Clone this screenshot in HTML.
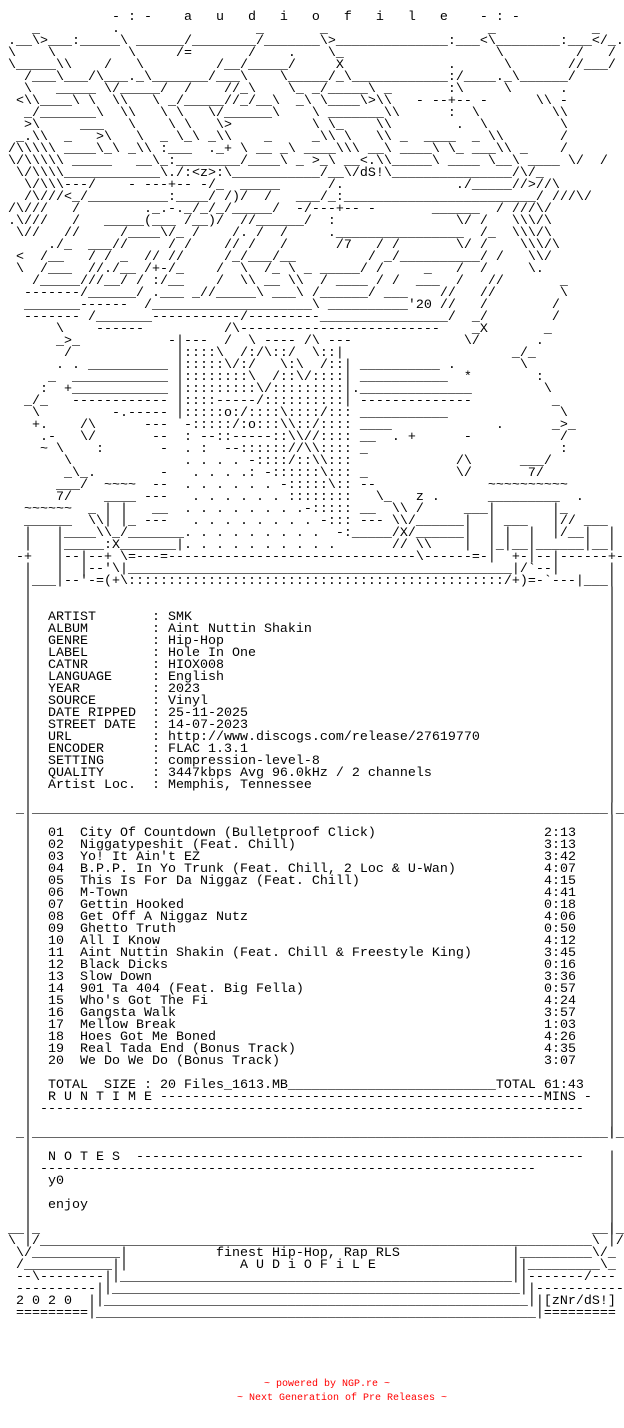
<!DOCTYPE html>
<html><head><meta charset="utf-8"><style>
html,body{margin:0;padding:0;background:#fff;}
#c{position:relative;width:624px;height:1428px;overflow:hidden;background:#fff;}
pre{position:absolute;margin:0;padding:0;font-family:"Liberation Mono",monospace;font-size:13.333px;line-height:12px;color:#000;white-space:pre;}
.f{position:absolute;font-family:"Liberation Mono",monospace;font-size:10px;line-height:14px;color:#f00;white-space:pre;}
</style></head><body><div id="c">
<pre style="left:0;top:0">

              - : -    a   u   d   i   o   f   i   l   e    - : -
    _         .                 _       _                    _            _
 .__\&gt;___:_____\ ______/________/_______\&gt;______________:___&lt;\________:___&lt;/_.
 \    \         \     /=       /    .    \_                   \         /   /
 \_____\\    /   \         /__/_____/     X             .      \       //___/
   /___\___/\___._\_______/___\    \_____/_\____________:/____._\______/
   \   _____ \/_____/  /    //_\    \_ _/_____\ _       :\     \      .
  &lt;\\____\ \  \\   \ _/_____//_/__\  _\ \____\&gt;\\   - --+-- -      \\ -
   _/_______\  \\   \ \   \/______\    \ _______\\      :  \         \\
   &gt;\     ___   \    \ \   \&gt;          \ \_    \\        .  \         \
  _.\\  _   &gt;\   \  _ \_\ _\\    _     _\\ \   \\ _  ____  _ \\       /
 /\\\\\ ____\_\ _\\ :___  ._+ \ __ _\ ____\\\ __\ ____\ \_ ___\\ _    /
 \/\\\\\ _____   __\_:________/____\ _ &gt;_\ __&lt;.\\_____\ ____ \__\ ____ \/  /
  \/\\\\____________\./:&lt;z&gt;:\___________/__\/dS!\_______________/\/_
   \/\\\---/    - ---+-- -/_  _____      /.              ./_____//&gt;//\
   /\///&lt;_/__________:____/ /)/  /   ___/_:________________________/ ///\/
 /\///   /        ._.-._/_/_/_____/  -/---+-- -       ______  / ///\/
 .\///   /   _____(___ /__)/  //______/  :               \/ /   \\\/\
  \//   //     /____\/_ /    /. /  /     .________________  /_  \\\/\
      ./_  ___//     / /    // /   /      /7   / /       \/ /    \\\/\
  &lt;  /__   / / _  // //     /_/___/__         / _/__________/ /   \\/
  \  /___  //./__ /+-/_    /  \  /_ \ _ _____/ /     _   /  /     \.
    /_____///__/ / :/__    /  \\ __ \\  / ____ / /  ___  /   //       _
   -------/______/ .___ _//_____\ ___\ /______/ ___    //   //        \
   _______------  /____________________\ __________'20 //   /        /
   ------- /_______-----------/---------________________/  _/        /
       \    ------          /\-------------------------    _X       _
       _&gt;_           -|---  /  \ ---- /\ ---              \/       .
        /             |::::\  /:/\::/  \::|                     _/_
       . . __________ |:::::\/:/   \:\  /::| __________ .        \
      _  ____________ |::::::::\  /::\/::::| ___________  *        :
     :  +____________ |:::::::::\/:::::::::|.______________         \
   _/_   ------------ |::::-----/::::::::::| --------------          _
    \         -.----- |:::::o:/::::\::::/::: ___________              \
    +.    /\      ---  -:::::/:o:::\\::/:::: ____             .      _&gt;_
     .-   \/       --  : --::-----::\\//:::: __  . +      -           /
     ~ \    :       -  . :  --:::::://\\:::: _                        :
        \              . . . . -::::/::\\:::             /\      ___/
        _\_.        -   . . . .: -::::::\::: _           \/       7/
       ___/  ~~~~  --  . . . . . . -:::::\:: --              ~~~~~~~~~~
       7/    ____ ---   . . . . . . ::::::::   \_   z .      _________  .
   ~~~~~~  _ | |   __  . . . . . . . .-::::: __  \\ /     ___|       |_
   ______  \\| |_ ---   . . . . . . . . -::: --- \\/______|  | ___   |// ___
   |   |____\\_/_______. . . . . . . . .  -:_____/X/______|  | |  |  |/__|  |
   |   |_____:X_______|. . . . . . . . . .       // \\    |  |_|__|______|__|
  -+   |--|--+ \=---=-------------------------------\------=-|  +-|--|------+-
   |   |  |--'\|________________________________________________|/`--|      |
   |___|--'-=(+\:::::::::::::::::::::::::::::::::::::::::::::::/+)=-`---|___|
   |
   |
   |  ARTIST       : SMK
   |  ALBUM        : Aint Nuttin Shakin
   |  GENRE        : Hip-Hop
   |  LABEL        : Hole In One
   |  CATNR        : HIOX008
   |  LANGUAGE     : English
   |  YEAR         : 2023
   |  SOURCE       : Vinyl
   |  DATE RIPPED  : 25-11-2025
   |  STREET DATE  : 14-07-2023
   |  URL          : http://www.discogs.com/release/27619770
   |  ENCODER      : FLAC 1.3.1
   |  SETTING      : compression-level-8
   |  QUALITY      : 3447kbps Avg 96.0kHz / 2 channels
   |  Artist Loc.  : Memphis, Tennessee
   |
  _|________________________________________________________________________|_
   |
   |  01  City Of Countdown (Bulletproof Click)
   |  02  Niggatypeshit (Feat. Chill)
   |  03  Yo! It Ain't EZ
   |  04  B.P.P. In Yo Trunk (Feat. Chill, 2 Loc &amp; U-Wan)
   |  05  This Is For Da Niggaz (Feat. Chill)
   |  06  M-Town
   |  07  Gettin Hooked
   |  08  Get Off A Niggaz Nutz
   |  09  Ghetto Truth
   |  10  All I Know
   |  11  Aint Nuttin Shakin (Feat. Chill &amp; Freestyle King)
   |  12  Black Dicks
   |  13  Slow Down
   |  14  901 Ta 404 (Feat. Big Fella)
   |  15  Who's Got The Fi
   |  16  Gangsta Walk
   |  17  Mellow Break
   |  18  Hoes Got Me Boned
   |  19  Real Tada End (Bonus Track)
   |  20  We Do We Do (Bonus Track)
   |
   |  TOTAL  SIZE : 20 Files_1613.MB__________________________TOTAL 61:43
   |  R U N T I M E ------------------------------------------------MINS -
   | --------------------------------------------------------------------
   |
  _|________________________________________________________________________|_
   |
   |  N O T E S  --------------------------------------------------------
   | --------------------------------------------------------------
   |  y0
   |
   |  enjoy
   |
 __|_                                                                     __|_
 \ |/_____________________________________________________________________\ |/
  \/___________|           finest Hip-Hop, Rap RLS              |_________\/_
  /___________||              A U D i O F i L E                 ||_________\_
  --\--------||_________________________________________________||-------/---
  ----------||___________________________________________________||-----------
  2 0 2 0  ||_____________________________________________________||[zNr/dS!]
  =========|_______________________________________________________|=========
</pre>
<pre style="left:544px;top:828px">2:13
3:13
3:42
4:07
4:15
4:41
0:18
4:06
0:50
4:12
3:45
0:16
3:36
0:57
4:24
3:57
1:03
4:26
4:35
3:07</pre>
<pre style="left:608px;top:588px">|
|
|
|
|
|
|
|
|
|
|
|
|
|
|
|
|
|

|
|
|
|
|
|
|
|
|
|
|
|
|
|
|
|
|
|
|
|
|
|
|
|
|
|
|

|
|
|
|
|
|
|</pre>
<div class="f" style="left:264px;top:1378px">~ powered by NGP.re ~</div>
<div class="f" style="left:237px;top:1392px">~ Next Generation of Pre Releases ~</div>
</div></body></html>
